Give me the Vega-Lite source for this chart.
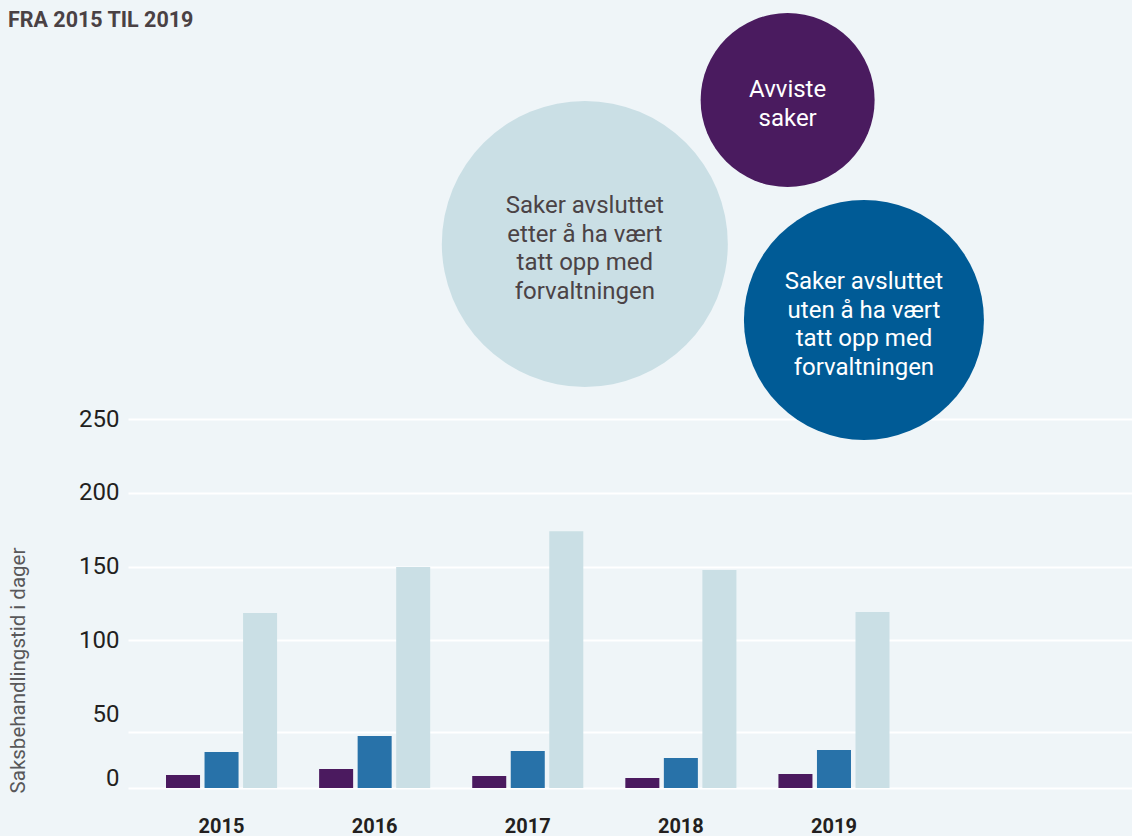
{
  "$schema": "https://vega.github.io/schema/vega-lite/v6.json",
  "width": 1004,
  "height": 369,
  "autosize": "none",
  "padding": {"left": 128, "top": 419, "right": 0, "bottom": 48},
  "background": "#eff5f8",
  "title": {
    "text": "FRA 2015 TIL 2019",
    "anchor": "start",
    "frame": "group",
    "font": "Roboto",
    "fontSize": 21.5,
    "fontWeight": "bold",
    "color": "#4a4144",
    "dx": -120,
    "dy": 18,
    "offset": 0
  },
  "config": {"font": "Roboto", "view": {"stroke": null}},
  "datasets": {
    "bars": [
      {"year": "2015", "serie": "Avviste saker", "dager": 8.8},
      {"year": "2015", "serie": "Uten forvaltningen", "dager": 24.4},
      {"year": "2015", "serie": "Etter forvaltningen", "dager": 118.6},
      {"year": "2016", "serie": "Avviste saker", "dager": 12.9},
      {"year": "2016", "serie": "Uten forvaltningen", "dager": 35.2},
      {"year": "2016", "serie": "Etter forvaltningen", "dager": 149.7},
      {"year": "2017", "serie": "Avviste saker", "dager": 8.1},
      {"year": "2017", "serie": "Uten forvaltningen", "dager": 25.0},
      {"year": "2017", "serie": "Etter forvaltningen", "dager": 174.0},
      {"year": "2018", "serie": "Avviste saker", "dager": 6.8},
      {"year": "2018", "serie": "Uten forvaltningen", "dager": 20.3},
      {"year": "2018", "serie": "Etter forvaltningen", "dager": 147.7},
      {"year": "2019", "serie": "Avviste saker", "dager": 9.5},
      {"year": "2019", "serie": "Uten forvaltningen", "dager": 25.7},
      {"year": "2019", "serie": "Etter forvaltningen", "dager": 119.2}
    ],
    "bubbles": [
      {"serie": "Etter forvaltningen", "label": "Saker avsluttet\netter å ha vært\ntatt opp med\nforvaltningen", "lines": 4, "bx": 45.5, "by": 368.6, "r": 143},
      {"serie": "Avviste saker", "label": "Avviste\nsaker", "lines": 2, "bx": 65.7, "by": 466.1, "r": 87},
      {"serie": "Uten forvaltningen", "label": "Saker avsluttet\nuten å ha vært\ntatt opp med\nforvaltningen", "lines": 4, "bx": 73.3, "by": 317.1, "r": 120}
    ]
  },
  "layer": [
    {
      "data": {"name": "bars"},
      "mark": {"type": "bar"},
      "encoding": {
        "x": {
          "field": "year",
          "type": "nominal",
          "scale": {"paddingInner": 0.2745, "paddingOuter": 0.916, "align": 0.1355},
          "axis": {
            "title": null,
            "labelAngle": 0,
            "labelFontSize": 20,
            "labelFontWeight": "bold",
            "labelColor": "#231f20",
            "labelPadding": 28,
            "domain": false,
            "ticks": false,
            "grid": false
          }
        },
        "xOffset": {
          "field": "serie",
          "type": "nominal",
          "sort": ["Avviste saker", "Uten forvaltningen", "Etter forvaltningen"],
          "scale": {"paddingInner": 0.117, "paddingOuter": 0}
        },
        "y": {
          "field": "dager",
          "type": "quantitative",
          "scale": {"domain": [0, 250], "nice": false},
          "axis": {
            "values": [0, 50, 100, 150, 200, 250],
            "grid": false,
            "domain": false,
            "ticks": false,
            "labelFontSize": 24,
            "labelColor": "#231f20",
            "labelPadding": 9,
            "labelOffset": {"condition": {"test": "datum.value === 0", "value": -10}, "value": 0},
            "title": "Saksbehandlingstid i dager",
            "titleFontSize": 20.5,
            "titleFontWeight": "normal",
            "titleColor": "#58585a",
            "titleX": -110,
            "titleY": 251,
            "titleAngle": 270,
            "titleAlign": "center",
            "titleBaseline": "middle"
          }
        },
        "color": {
          "field": "serie",
          "type": "nominal",
          "scale": {
            "domain": ["Avviste saker", "Uten forvaltningen", "Etter forvaltningen"],
            "range": ["#4b1a5f", "#2872a9", "#cadfe5"]
          },
          "legend": null
        }
      }
    },
    {
      "data": {"name": "bubbles"},
      "mark": {"type": "point", "shape": "circle", "filled": true, "opacity": 1, "strokeWidth": 0},
      "encoding": {
        "x": {"field": "bx", "type": "quantitative", "scale": {"domain": [0, 100], "nice": false, "zero": false}, "axis": null},
        "y": {
          "field": "by",
          "type": "quantitative",
          "scale": {"domain": [0, 250], "nice": false},
          "axis": {
            "orient": "left",
            "values": [0, 38, 100, 150, 200, 250],
            "grid": true,
            "gridColor": "#ffffff",
            "gridWidth": 2,
            "gridOpacity": 1,
            "labels": false,
            "ticks": false,
            "domain": false,
            "title": null
          }
        },
        "size": {
          "field": "r",
          "type": "quantitative",
          "scale": {"type": "pow", "exponent": 2, "domain": [0, 100], "range": [0, 40000]},
          "legend": null
        },
        "color": {
          "field": "serie",
          "type": "nominal",
          "scale": {
            "domain": ["Avviste saker", "Uten forvaltningen", "Etter forvaltningen"],
            "range": ["#4a1b5f", "#005b96", "#cadfe5"]
          },
          "legend": null
        }
      }
    },
    {
      "data": {"name": "bubbles"},
      "transform": [{"filter": "datum.lines === 4"}],
      "mark": {"type": "text", "lineBreak": "\n", "fontSize": 24, "lineHeight": 28.5, "align": "center", "baseline": "middle", "dy": -37.5},
      "encoding": {
        "x": {"field": "bx", "type": "quantitative", "scale": {"domain": [0, 100], "nice": false, "zero": false}, "axis": null},
        "y": {"field": "by", "type": "quantitative", "scale": {"domain": [0, 250], "nice": false}, "axis": null},
        "text": {"field": "label"},
        "color": {
          "field": "serie",
          "type": "nominal",
          "scale": {
            "domain": ["Avviste saker", "Uten forvaltningen", "Etter forvaltningen"],
            "range": ["#ffffff", "#ffffff", "#4b4346"]
          },
          "legend": null
        }
      }
    },
    {
      "data": {"name": "bubbles"},
      "transform": [{"filter": "datum.lines === 2"}],
      "mark": {"type": "text", "lineBreak": "\n", "fontSize": 24, "lineHeight": 28.5, "align": "center", "baseline": "middle", "dy": -10, "color": "#ffffff"},
      "encoding": {
        "x": {"field": "bx", "type": "quantitative", "scale": {"domain": [0, 100], "nice": false, "zero": false}, "axis": null},
        "y": {"field": "by", "type": "quantitative", "scale": {"domain": [0, 250], "nice": false}, "axis": null},
        "text": {"field": "label"}
      }
    }
  ],
  "resolve": {
    "scale": {"x": "independent", "y": "independent", "color": "independent", "size": "independent"},
    "axis": {"x": "independent", "y": "independent"}
  }
}
